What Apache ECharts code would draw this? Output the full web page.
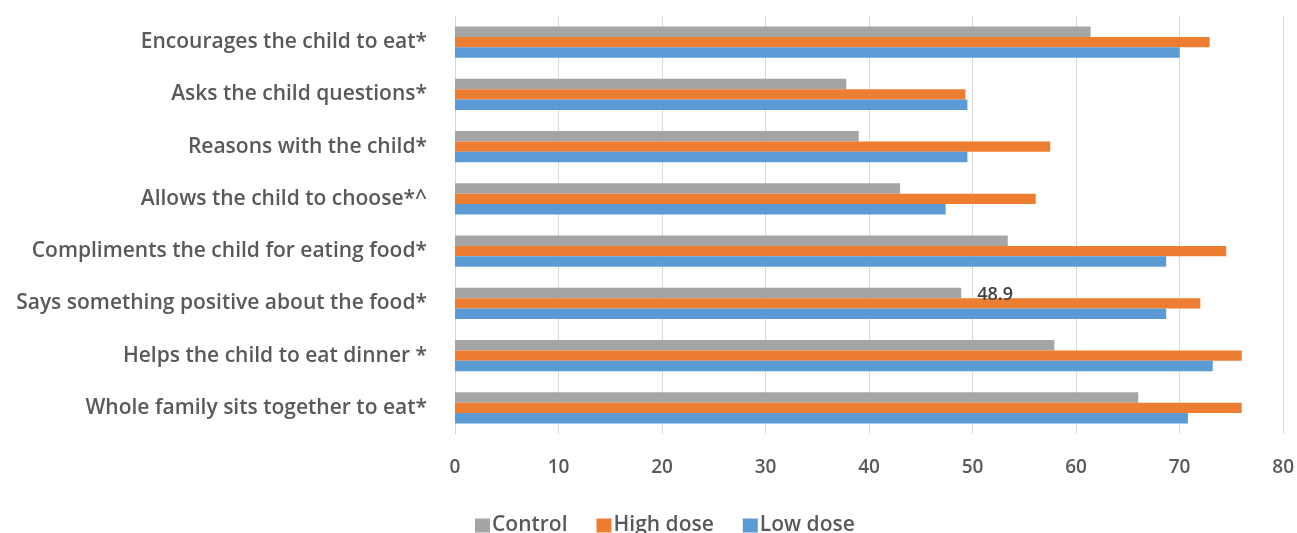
<!DOCTYPE html>
<html>
<head>
<meta charset="utf-8">
<script src="https://cdn.jsdelivr.net/npm/echarts@6/dist/echarts.min.js"></script>
<style>
  html, body { margin: 0; padding: 0; background: #ffffff; }
  #chart { width: 1297px; height: 533px; }
</style>
</head>
<body>
<div id="chart"></div>
<script>
// Feeding behaviours, listed top to bottom
const categories = [
  'Encourages the child to eat*',
  'Asks the child questions*',
  'Reasons with the child*',
  'Allows the child to choose*^',
  'Compliments the child for eating food*',
  'Says something positive about the food*',
  'Helps the child to eat dinner *',
  'Whole family sits together to eat*'
];

// Percentages per group
const control  = [61.4, 37.8, 39.0, 43.0, 53.4, 48.9, 57.9, 66.0];
const highDose = [72.9, 49.3, 57.5, 56.1, 74.5, 72.0, 76.0, 76.0];
const lowDose  = [70.0, 49.5, 49.5, 47.4, 68.7, 68.7, 73.2, 70.8];

// Only one value carries a visible label
const labelledControlIndex = 5;

const xTicks = { min: 0, max: 80, interval: 10 };

const textColor = '#595959';
const fontFamily = '"Open Sans", "Liberation Sans", sans-serif';

const chart = echarts.init(document.getElementById('chart'), null, { renderer: 'canvas' });

const controlData = control.map((v, i) => i === labelledControlIndex
  ? { value: v, label: { show: true, position: 'right', distance: 16, offset: [0, 2],
      color: '#404040', fontSize: 18, fontWeight: 600, fontFamily: fontFamily, formatter: '{c}' } }
  : v);

const option = {
  animation: false,
  backgroundColor: '#ffffff',
  grid: { left: 455, right: 13, top: 16, bottom: 99, containLabel: false },
  legend: {
    data: ['Control', 'High dose', 'Low dose'],
    top: 510,
    left: 470,
    itemWidth: 15,
    itemHeight: 14,
    itemGap: 29,
    icon: 'rect',
    textStyle: { color: textColor, fontSize: 21, fontWeight: 600, fontFamily: fontFamily, padding: [0, 0, 0, -3] }
  },
  xAxis: {
    type: 'value',
    min: xTicks.min,
    max: xTicks.max,
    interval: xTicks.interval,
    axisLine: { show: false },
    axisTick: { show: false },
    splitLine: { show: true, lineStyle: { color: '#d9d9d9', width: 1 } },
    axisLabel: { color: textColor, fontSize: 19, fontWeight: 600, fontFamily: fontFamily, margin: 24 }
  },
  yAxis: {
    type: 'category',
    inverse: true,
    data: categories,
    axisLine: { show: true, lineStyle: { color: '#d9d9d9', width: 1 } },
    axisTick: { show: false },
    axisLabel: { color: textColor, fontSize: 21, fontWeight: 600, fontFamily: fontFamily, margin: 28 }
  },
  series: [
    { name: 'Control', type: 'bar', data: controlData, itemStyle: { color: '#A5A5A5' },
      barGap: '0%', barCategoryGap: '40%' },
    { name: 'High dose', type: 'bar', data: highDose, itemStyle: { color: '#ED7D31' },
      barGap: '0%', barCategoryGap: '40%' },
    { name: 'Low dose', type: 'bar', data: lowDose, itemStyle: { color: '#5B9BD5' },
      barGap: '0%', barCategoryGap: '40%' }
  ]
};

chart.setOption(option);
</script>
</body>
</html>
